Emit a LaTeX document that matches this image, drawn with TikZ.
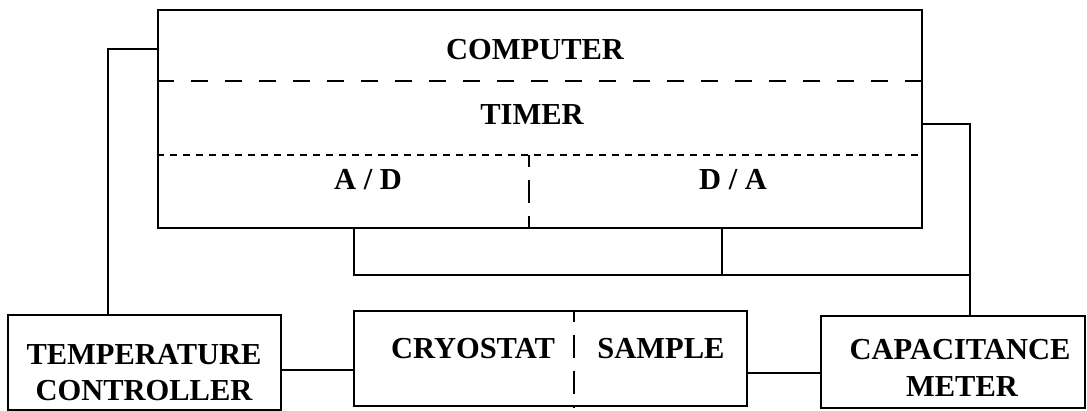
\documentclass[tikz,border=0pt]{standalone}
\usepackage{fontspec}
\setmainfont{Liberation Serif}
\begin{document}
\begin{tikzpicture}[x=1pt,y=1pt,
  box/.style={draw, line width=2.8pt, rectangle, inner sep=0pt},
  wire/.style={line width=2.8pt},
  lbl/.style={font=\fontsize{30.5}{33}\selectfont\bfseries, inner sep=0pt, anchor=center},
  longdash/.style={line width=2.8pt, dash pattern=on 17pt off 17pt},
  shortdot/.style={line width=2.6pt, dash pattern=on 7pt off 6pt},
  vdash/.style={line width=2.5pt, dash pattern=on 23pt off 13pt, dash phase=11pt}]
\useasboundingbox (0,0) rectangle (1087,-411);

% main blocks
\node[box, minimum width=764pt, minimum height=218pt] (computer) at (540,-119) {};
\node[box, minimum width=273pt, minimum height=95pt] (temp) at (144.5,-362.5) {};
\node[box, minimum width=393pt, minimum height=95pt] (cryo) at (550.5,-358.5) {};
\node[box, minimum width=264pt, minimum height=92pt] (cap) at (953,-362) {};

% inner partitions of the computer
\draw[longdash] (computer.west |- 0,-81) -- (computer.east |- 0,-81);
\draw[shortdot] (computer.west |- 0,-155) -- (computer.east |- 0,-155);
\draw[vdash] (529,-155) -- (computer.south -| 529,0);
% cryostat / sample partition
\draw[vdash] (cryo.north -| 574,0) -- (cryo.south -| 574,0);

% labels
\node[lbl] (tcomp) at (535,-50) {COMPUTER};
\node[lbl] (ttimer) at (532,-115) {TIMER};
\node[lbl] (tad) at (368,-180) {A / D};
\node[lbl] (tda) at (733,-180) {D / A};
\node[lbl] (ttemp1) at (144,-355) {TEMPERATURE};
\node[lbl] (ttemp2) at (144,-391) {CONTROLLER};
\node[lbl] (tcryo) at (473,-349) {CRYOSTAT};
\node[lbl] (tsample) at (661,-349) {SAMPLE};
\node[lbl] (tcap1) at (960,-350) {CAPACITANCE};
\node[lbl] (tcap2) at (962,-387) {METER};

% connection points
\coordinate (lcorner) at (108,-49);
\coordinate (rcorner) at (970,-124);
\coordinate (busl) at (354,-275);
\coordinate (busm) at (722,-275);
\coordinate (busr) at (970,-275);

% wiring
\draw[wire] (computer.west |- lcorner) -- (lcorner) -- (temp.north -| lcorner);
\draw[wire] (computer.east |- rcorner) -- (rcorner) -- (cap.north -| rcorner);
\draw[wire] (computer.south -| busl) -- (busl) -- (busr);
\draw[wire] (computer.south -| busm) -- (busm);
\draw[wire] (temp.east |- 0,-370) -- (cryo.west |- 0,-370);
\draw[wire] (cryo.east |- 0,-373) -- (cap.west |- 0,-373);
\end{tikzpicture}
\end{document}
